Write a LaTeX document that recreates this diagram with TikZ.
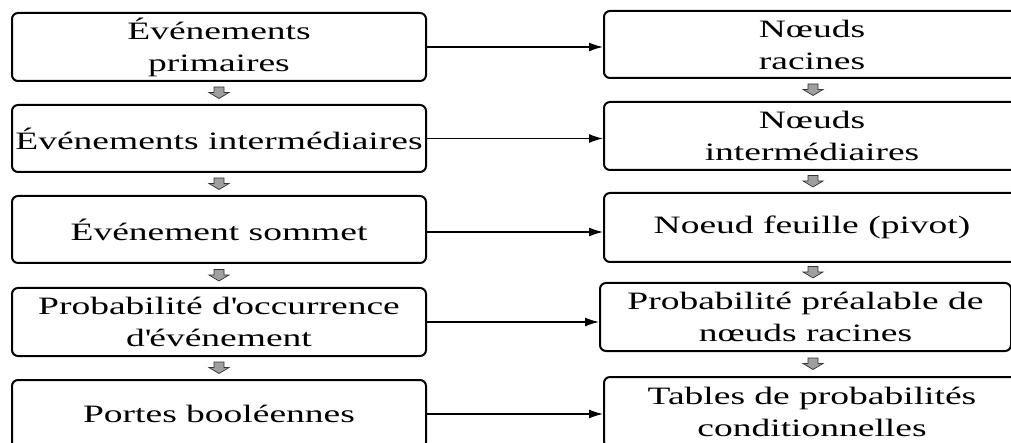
\documentclass[tikz,border=0pt]{standalone}
\usepackage{fontspec}
\setmainfont{Liberation Serif}[FakeStretch=1.5]
\usetikzlibrary{arrows.meta,calc}

\tikzset{
  stage/.style={draw=black, line width=2pt, rounded corners=6pt, align=center,
    inner sep=0pt, font=\fontsize{25}{32}\selectfont},
  link/.style={line width=1.4pt, -{Latex[length=14pt,width=9pt]}},
  downarrow/.pic={
    \filldraw[fill=gray!75, draw=gray!40!black, line width=0.7pt]
      (-5pt,6pt) -- (5pt,6pt) -- (5pt,0.5pt) -- (10pt,0.5pt)
      -- (0pt,-5.5pt) -- (-10pt,0.5pt) -- (-5pt,0.5pt) -- cycle;
  }
}

\begin{document}
\begin{tikzpicture}[x=1pt,y=1pt]
  \useasboundingbox (0,0) rectangle (1011,-443);
  \clip (0,0) rectangle (1011,-443);

  % fault tree column
  \node[stage, minimum width=414pt, minimum height=68pt] (L1) at (219,-47)
    {Événements\\primaires};
  \node[stage, minimum width=414pt, minimum height=67pt] (L2) at (219,-138.5)
    {Événements intermédiaires};
  \node[stage, minimum width=414pt, minimum height=67pt] (L3) at (219,-229.5)
    {Événement sommet};
  \node[stage, minimum width=414pt, minimum height=68pt] (L4) at (219,-322)
    {Probabilité d\textquotesingle occurrence\\d\textquotesingle événement};
  \node[stage, minimum width=414pt, minimum height=68pt] (L5) at (219,-414)
    {Portes booléennes};

  % Bayesian network column
  \node[stage, minimum width=416pt, minimum height=67pt] (R1) at (812,-44.5)
    {Nœuds\\racines};
  \node[stage, minimum width=416pt, minimum height=68pt] (R2) at (812,-136)
    {Nœuds\\intermédiaires};
  \node[stage, minimum width=416pt, minimum height=69pt] (R3) at (812,-227.5)
    {Noeud feuille (pivot)};
  \node[stage, minimum width=411pt, minimum height=68pt] (R4) at (805.5,-317)
    {Probabilité préalable de\\nœuds racines};
  \node[stage, minimum width=416pt, minimum height=70pt] (R5) at (812,-412)
    {Tables de probabilités\\conditionnelles};

  % correspondences
  \draw[link] (L1.east) -- (L1.east -| R1.west);
  \draw[link] (L2.east) -- (L2.east -| R2.west);
  \draw[link] ($(L3.east)+(0,-2.5)$) -- ($(L3.east -| R3.west)+(0,-2.5)$);
  \draw[link] (L4.east) -- (L4.east -| R4.west);
  \draw[link] (L5.east) -- (L5.east -| R5.west);

  % sequence arrows
  \coordinate (lc) at (219,0);
  \coordinate (rc) at (813,0);
  \pic at ($(lc |- L1.south)!0.5!(lc |- L2.north)$) {downarrow};
  \pic at ($(lc |- L2.south)!0.5!(lc |- L3.north)$) {downarrow};
  \pic at ($(lc |- L3.south)!0.5!(lc |- L4.north)$) {downarrow};
  \pic at ($(lc |- L4.south)!0.5!(lc |- L5.north)$) {downarrow};
  \pic at ($(rc |- R1.south)!0.5!(rc |- R2.north)$) {downarrow};
  \pic at ($(rc |- R2.south)!0.5!(rc |- R3.north)$) {downarrow};
  \pic at ($(rc |- R3.south)!0.5!(rc |- R4.north)$) {downarrow};
  \pic at ($(rc |- R4.south)!0.5!(rc |- R5.north)$) {downarrow};
\end{tikzpicture}
\end{document}
